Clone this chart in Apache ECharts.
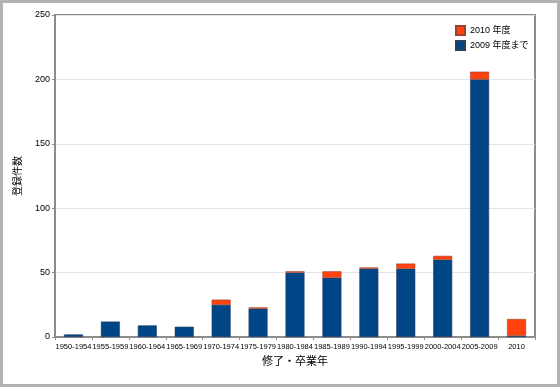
<!DOCTYPE html>
<html><head><meta charset="utf-8">
<script src="https://cdn.jsdelivr.net/npm/echarts@6/dist/echarts.min.js"></script>
<style>html,body{margin:0;padding:0;background:#fff}#c{width:560px;height:387px}</style>
</head><body><div id="c"></div>
<script>
const categories = ['1950-1954','1955-1959','1960-1964','1965-1969','1970-1974','1975-1979','1980-1984','1985-1989','1990-1994','1995-1999','2000-2004','2005-2009','2010'];
const until2009 = [2,12,9,8,25,22,50,46,53,53,60,200,1];
const fy2010 = [0,0,0,0,4,1,1,5,1,4,3,6,13];
const yTicks = [0,50,100,150,200,250];
const seriesNames = ['2010 年度','2009 年度まで'];

const chart = echarts.init(document.getElementById('c'));
const font = 'Liberation Sans, DejaVu Sans, Noto Sans CJK JP, sans-serif';
const nz = a => a.map(v => v === 0 ? null : v);
chart.setOption({
  animation:false,
  textStyle:{fontFamily:font},
  graphic:[{type:'rect',shape:{x:1.5,y:1.5,width:557,height:384},style:{fill:'none',stroke:'#b3b3b3',lineWidth:3}}],
  grid:{left:55,right:25,top:15,bottom:50,show:true,borderColor:'#8c8c8c',borderWidth:2,backgroundColor:'transparent'},
  legend:{orient:'vertical',left:450,top:20,itemWidth:9,itemHeight:9,itemGap:4,
    data:seriesNames,textStyle:{fontSize:9,color:'#000',fontFamily:font},icon:'rect'},
  xAxis:{type:'category',data:categories,name:'修了・卒業年',nameLocation:'middle',nameGap:17,
    nameTextStyle:{fontSize:11,color:'#000',fontFamily:'Noto Sans CJK JP'},
    axisLine:{lineStyle:{color:'#8c8c8c',width:2}},
    axisTick:{show:true,length:3,lineStyle:{color:'#8c8c8c'}},
    axisLabel:{fontSize:7.5,color:'#000',interval:0,margin:6}},
  yAxis:{type:'value',min:yTicks[0],max:yTicks[yTicks.length-1],interval:50,name:'登録件数',nameLocation:'middle',nameGap:33,nameRotate:90,
    nameTextStyle:{fontSize:10,color:'#000',fontFamily:'Noto Sans CJK JP'},
    axisLine:{show:true,lineStyle:{color:'#8c8c8c',width:2}},
    axisTick:{show:true,length:3,lineStyle:{color:'#8c8c8c'}},
    axisLabel:{fontSize:9,color:'#000',margin:5},
    splitLine:{lineStyle:{color:'#e3e3e3'}}},
  series:[
    {name:seriesNames[1],type:'bar',stack:'s',data:nz(until2009),barWidth:19,
      itemStyle:{color:'#004586',borderColor:'#2a4060',borderWidth:0.6}},
    {name:seriesNames[0],type:'bar',stack:'s',data:nz(fy2010),barWidth:19,
      itemStyle:{color:'#ff420e',borderColor:'#a0402a',borderWidth:0.6}}
  ]
});
</script></body></html>
